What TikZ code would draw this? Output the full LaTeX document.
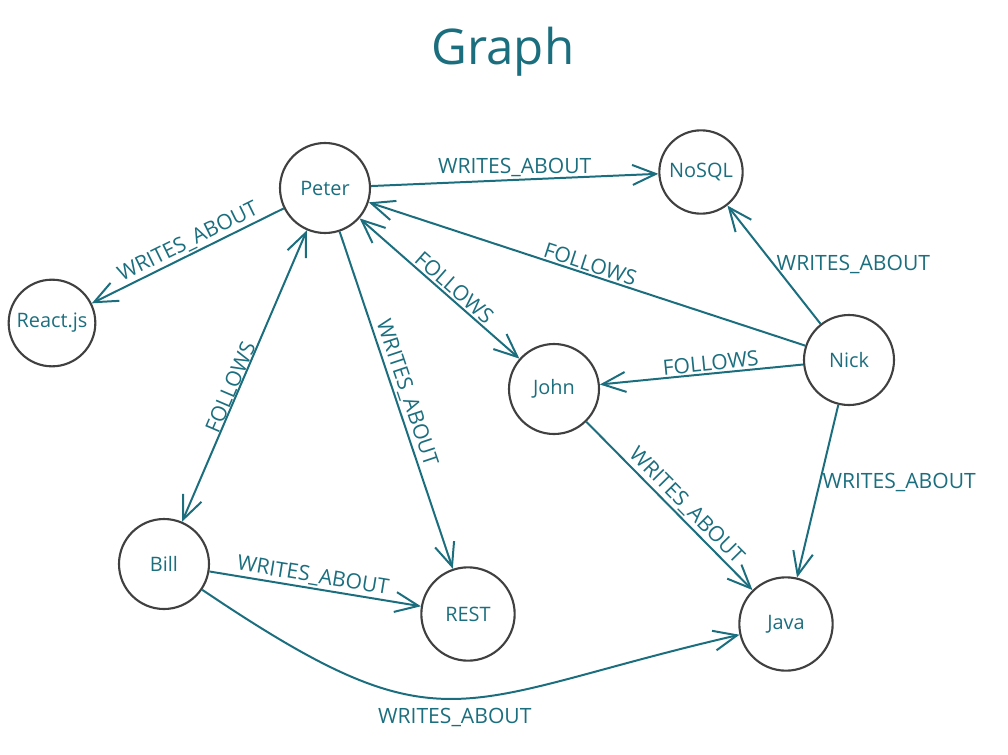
\documentclass[tikz,border=0pt]{standalone}
\usepackage{fontspec}
\setmainfont{Open Sans}
\usetikzlibrary{arrows.meta,positioning}
\definecolor{gteal}{RGB}{27,110,126}
\definecolor{gring}{RGB}{64,64,64}

\begin{document}
\begin{tikzpicture}[x=0.03cm,y=-0.03cm,
  entity/.style={draw=gring, line width=1.8pt, circle, minimum size=2.7cm, inner sep=0pt, text=gteal, font=\fontsize{17}{19}\selectfont},
  rel/.style={draw=gteal, line width=1.7pt, -{Straight Barb[length=7mm,width=6mm]}},
  both/.style={draw=gteal, line width=1.7pt, {Straight Barb[length=7mm,width=6mm]}-{Straight Barb[length=7mm,width=6mm]}},
  lbl/.style={text=gteal, font=\fontsize{18}{20}\selectfont, inner sep=1.5pt}]
  \useasboundingbox (0,0) rectangle (1008,754);

  %% Title
  \node[text=gteal, font=\fontsize{42}{46}\selectfont] (title) at (503,52) {Graph};

  %% People
  \node[entity] (peter) at (325,188) {Peter};
  \node[entity] (john) at (554,389) {John};
  \node[entity] (nick) at (849,360) {Nick};
  \node[entity] (bill) at (164,564) {Bill};

  %% Topics
  \node[entity, minimum size=2.5cm] (nosql) at (701,172) {NoSQL};
  \node[entity, minimum size=2.6cm] (react) at (52,323) {React.js};
  \node[entity, minimum size=2.8cm] (rest) at (468,614) {REST};
  \node[entity, minimum size=2.8cm] (java) at (786,624) {Java};

  %% Peter
  \draw[rel] (peter) -- node[lbl, above, pos=0.5] {WRITES\_ABOUT} (nosql);
  \draw[rel] (peter) -- node[lbl, sloped, above, pos=0.47] {WRITES\_ABOUT} (react);
  \draw[rel] (peter) -- node[lbl, sloped, above, pos=0.49] {WRITES\_ABOUT} (rest);
  \draw[both] (peter) -- node[lbl, sloped, above, pos=0.55] {FOLLOWS} (john);
  \draw[both] (peter) -- node[lbl, sloped, above, pos=0.55, inner sep=0pt] {FOLLOWS} (bill);

  %% Nick
  \draw[rel] (nick) -- node[lbl, sloped, above, pos=0.5] {FOLLOWS} (peter);
  \draw[rel] (nick) -- node[lbl, sloped, above, pos=0.45] {FOLLOWS} (john);
  \draw[rel] (nick) -- node[lbl, right, pos=0.5] {WRITES\_ABOUT} (nosql);
  \draw[rel] (nick) -- node[lbl, right, pos=0.45] {WRITES\_ABOUT} (java);

  %% John and Bill
  \draw[rel] (john) -- node[lbl, sloped, above, pos=0.55] {WRITES\_ABOUT} (java);
  \draw[rel] (bill) -- node[lbl, sloped, above, pos=0.48] {WRITES\_ABOUT} (rest);
  \draw[rel] (bill) to[out=-34, in=193, looseness=1.4] node[lbl, below=6pt, pos=0.5] {WRITES\_ABOUT} (java);
\end{tikzpicture}
\end{document}
